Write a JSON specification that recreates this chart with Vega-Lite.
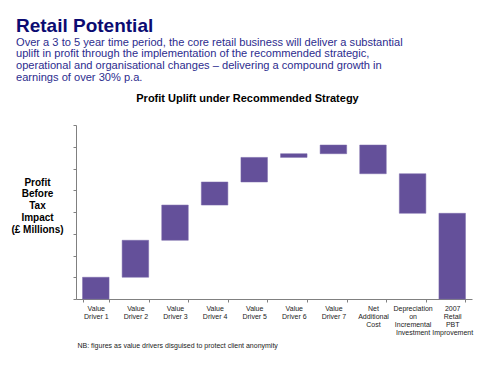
{
  "$schema": "https://vega.github.io/schema/vega-lite/v6.json",
  "width": 396,
  "height": 174,
  "autosize": {"type": "none"},
  "padding": {"left": 76, "top": 125, "right": 21, "bottom": 70},
  "background": "white",
  "config": {
    "font": "Liberation Sans",
    "view": {"stroke": null}
  },
  "title": {
    "text": "Retail Potential",
    "subtitle": [
      "Over a 3 to 5 year time period, the core retail business will deliver a substantial",
      "uplift in profit through the implementation of the recommended strategic,",
      "operational and organisational changes – delivering a compound  growth in",
      "earnings of over 30% p.a."
    ],
    "anchor": "start",
    "frame": "group",
    "dx": -60,
    "offset": 9,
    "font": "Liberation Sans",
    "fontSize": 19,
    "fontWeight": "bold",
    "color": "#0B0B72",
    "subtitleFont": "Liberation Sans",
    "subtitleFontSize": 11.1,
    "subtitleColor": "#2C2C8E",
    "subtitleLineHeight": 11.7,
    "subtitlePadding": 1
  },
  "data": {
    "values": [
      {"category": "Value|Driver 1", "lo": 0, "hi": 1.0},
      {"category": "Value|Driver 2", "lo": 1.0, "hi": 2.7},
      {"category": "Value|Driver 3", "lo": 2.7, "hi": 4.32},
      {"category": "Value|Driver 4", "lo": 4.32, "hi": 5.38},
      {"category": "Value|Driver 5", "lo": 5.38, "hi": 6.51},
      {"category": "Value|Driver 6", "lo": 6.51, "hi": 6.68},
      {"category": "Value|Driver 7", "lo": 6.68, "hi": 7.08},
      {"category": "Net|Additional|Cost", "lo": 5.76, "hi": 7.08},
      {"category": "Depreciation|on|Incremental|Investment", "lo": 3.94, "hi": 5.76},
      {"category": "2007|Retail|PBT|Improvement", "lo": 0, "hi": 3.94}
    ]
  },
  "layer": [
    {
      "mark": {"type": "bar", "color": "#64509A", "stroke": "#7A68AA", "strokeWidth": 0.5},
      "encoding": {
        "x": {
          "field": "category",
          "type": "nominal",
          "sort": null,
          "scale": {"paddingInner": 0.33, "paddingOuter": 0.165},
          "axis": {
            "orient": "bottom",
            "labelAngle": 0,
            "labelExpr": "isValid(datum.value) ? split(datum.value, '|') : ''",
            "labelFontSize": 7,
            "labelColor": "#222222",
            "labelLineHeight": 8.2,
            "labelPadding": 2,
            "labelBaseline": "top",
            "tickBand": "extent",
            "tickSize": 3,
            "tickColor": "#808080",
            "domainColor": "#808080",
            "title": "NB: figures as value drivers disguised to protect client anonymity",
            "titleFontSize": 7,
            "titleFontWeight": "normal",
            "titleColor": "#222222",
            "titleAnchor": "start",
            "titleAlign": "left",
            "titleX": 1,
            "titleY": 46,
            "titleBaseline": "middle"
          }
        },
        "y": {
          "field": "lo",
          "type": "quantitative",
          "scale": {"domain": [0, 8], "nice": false},
          "axis": {
            "values": [0, 1, 2, 3, 4, 5, 6, 7, 8],
            "labels": false,
            "grid": false,
            "tickSize": 3,
            "tickColor": "#808080",
            "domainColor": "#808080",
            "title": ["Profit", "Before", "Tax", "Impact", "(£ Millions)"],
            "titleAngle": 0,
            "titleAlign": "center",
            "titleBaseline": "middle",
            "titleFontSize": 10,
            "titleFontWeight": "bold",
            "titleColor": "#000000",
            "titleLineHeight": 11.8,
            "titleX": -39,
            "titleY": 57
          }
        },
        "y2": {"field": "hi"}
      }
    },
    {
      "mark": {"type": "bar", "opacity": 0},
      "encoding": {
        "x": {
          "field": "category",
          "type": "nominal",
          "sort": null,
          "axis": {
            "orient": "top",
            "labels": false,
            "ticks": false,
            "domain": false,
            "title": "Profit Uplift under Recommended Strategy",
            "titleFontSize": 11,
            "titleFontWeight": "bold",
            "titleColor": "#000000",
            "titleX": 171,
            "titleY": -27,
            "titleAlign": "center",
            "titleBaseline": "middle"
          }
        }
      }
    }
  ],
  "resolve": {"axis": {"x": "independent"}}
}
